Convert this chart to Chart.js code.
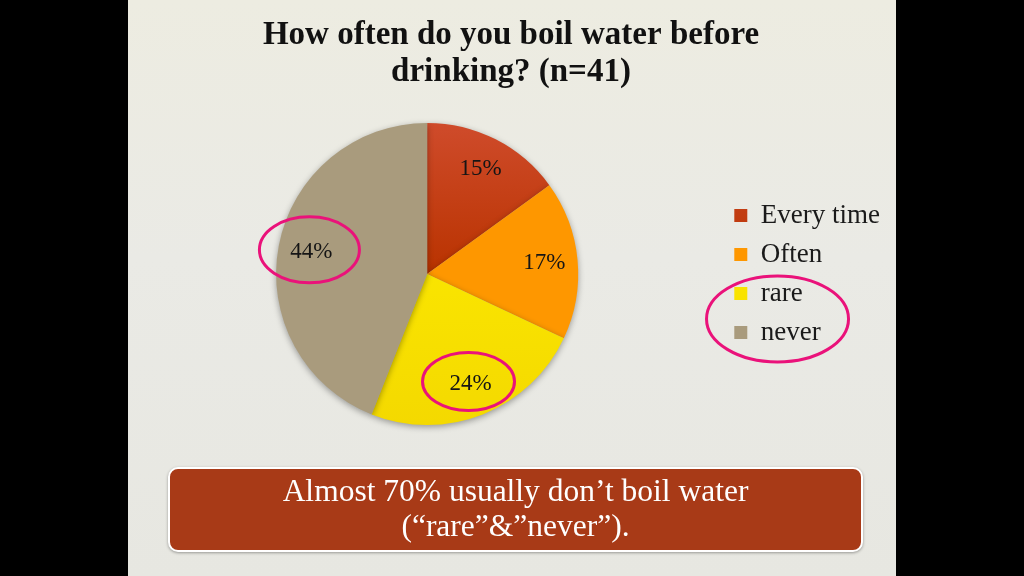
<!DOCTYPE html>
<html>
<head>
<meta charset="utf-8">
<script src="https://cdn.jsdelivr.net/npm/chart.js@4/dist/chart.umd.min.js"></script>
<style>
  html, body { margin: 0; padding: 0; background: #000; }
  body { width: 1024px; height: 576px; position: relative; overflow: hidden; }
  #slide {
    position: absolute; left: 128px; top: 0; width: 768px; height: 576px;
    background: linear-gradient(#edece1 0%, #eaeae5 45%, #e7e7e1 100%);
  }
  #grafico { position: absolute; left: 0; top: 0; }
  #nota {
    position: absolute; left: 40px; top: 467px; width: 691px; height: 77px;
    background: #a83a17; border: 2px solid #fff; border-radius: 10px;
    box-shadow: 0 1px 3px rgba(0,0,0,0.35);
    color: #fff; font: 31.5px "Liberation Serif", serif; line-height: 35px;
    text-align: center; padding-top: 4px; box-sizing: content-box;
  }
</style>
</head>
<body>
<div id="slide">
  <canvas id="grafico" width="768" height="576"></canvas>
  <div id="nota">Almost 70% usually don’t boil water<br>(“rare”&”never”).</div>
</div>
<script>
// datos del gráfico
const categorias = ["Every time", "Often", "rare", "never"];
const porcentajes = [15, 17, 24, 44];
const colores = ["#c13c10", "#fe9700", "#fde600", "#a99b7d"];
const titulo = ["How often do you boil water before", "drinking? (n=41)"];
// etiquetas y leyenda marcadas con óvalos
const marcados = [2, 3];

// degradado suave para las porciones rojas y amarillas
function colorPorcion(ctx) {
  const i = ctx.dataIndex;
  const area = ctx.chart.chartArea;
  if (!area) return colores[i];
  const g = ctx.chart.ctx.createLinearGradient(0, area.top, 0, area.bottom);
  if (i === 0) {
    g.addColorStop(0, "#cf4b2b");
    g.addColorStop(0.5, "#b93300");
    g.addColorStop(1, "#b93300");
    return g;
  }
  if (i === 2) {
    g.addColorStop(0, "#fff000");
    g.addColorStop(1, "#f4d900");
    return g;
  }
  return colores[i];
}

const sombra = {
  id: "sombra",
  beforeDatasetsDraw(chart) {
    const c = chart.ctx;
    c.save();
    c.shadowColor = "rgba(0,0,0,0.35)";
    c.shadowBlur = 6;
    c.shadowOffsetY = 2;
  },
  afterDatasetsDraw(chart) {
    chart.ctx.restore();
  }
};

// porcentajes dentro de cada porción
const etiquetas = {
  id: "etiquetas",
  afterDatasetsDraw(chart) {
    const c = chart.ctx;
    const arcos = chart.getDatasetMeta(0).data;
    c.save();
    c.font = "23px 'Liberation Serif', serif";
    c.fillStyle = "#151515";
    c.textAlign = "center";
    c.textBaseline = "middle";
    arcos.forEach((a, i) => {
      const medio = (a.startAngle + a.endAngle) / 2;
      const r = a.outerRadius * 0.78;
      c.fillText(porcentajes[i] + "%", a.x + Math.cos(medio) * r, a.y + Math.sin(medio) * r);
    });
    c.restore();
  }
};

// óvalos rosas de resaltado
const ovalos = {
  id: "ovalos",
  afterDraw(chart) {
    const c = chart.ctx;
    const arcos = chart.getDatasetMeta(0).data;
    c.save();
    c.strokeStyle = "#ea127a";
    c.lineWidth = 3;
    // alrededor de 24% y 44%
    marcados.forEach(i => {
      const a = arcos[i];
      const medio = (a.startAngle + a.endAngle) / 2;
      const r = a.outerRadius * 0.78;
      const x = a.x + Math.cos(medio) * r - 2;
      const y = a.y + Math.sin(medio) * r - 2;
      const rx = i === 3 ? 50 : 46;
      const ry = i === 3 ? 33 : 29;
      c.beginPath();
      c.ellipse(x, y, rx, ry, 0, 0, Math.PI * 2);
      c.stroke();
    });
    // alrededor de "rare" y "never" en la leyenda
    const cajas = chart.legend.legendHitBoxes;
    const b1 = cajas[marcados[0]], b2 = cajas[marcados[1]];
    const cx = (b1.left + Math.max(b1.left + b1.width, b2.left + b2.width)) / 2;
    const cy = (b1.top + b2.top + b2.height) / 2 + 6;
    c.beginPath();
    c.ellipse(cx, cy, 71, 43, 0, 0, Math.PI * 2);
    c.stroke();
    c.restore();
  }
};

new Chart(document.getElementById("grafico"), {
  type: "pie",
  data: {
    labels: categorias,
    datasets: [{
      data: porcentajes,
      backgroundColor: colorPorcion,
      borderWidth: 0
    }]
  },
  plugins: [sombra, etiquetas, ovalos],
  options: {
    responsive: false,
    animation: false,
    events: [],
    layout: { padding: { left: 4, right: 6, top: 0, bottom: 151 } },
    plugins: {
      tooltip: { enabled: false },
      title: {
        display: true,
        text: titulo,
        color: "#111",
        font: { family: "'Liberation Serif', serif", size: 33, weight: "bold", lineHeight: 1.15 },
        padding: { top: 16, bottom: 31 }
      },
      legend: {
        position: "right",
        fullSize: false,
        labels: {
          color: "#1a1a1a",
          boxWidth: 13,
          boxHeight: 13,
          padding: 12,
          font: { family: "'Liberation Serif', serif", size: 27 }
        }
      }
    }
  }
});
</script>
</body>
</html>
